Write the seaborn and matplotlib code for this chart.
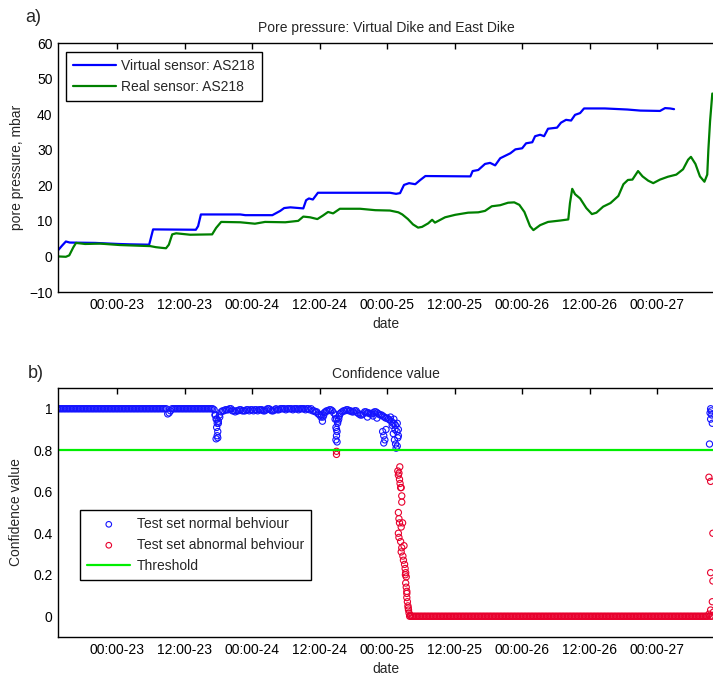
import numpy as np
import pandas as pd
import matplotlib
matplotlib.use("Agg")
import matplotlib.pyplot as plt
import seaborn as sns

# time axis: hours since 00:00 on the 23rd
VIRTUAL_T = [-10.5, -9.8, -9.1, -8.4, -3.9, 0.2, 2.3, 5.7, 5.9, 6.4, 14.0, 14.4, 14.9,
             21.9, 22.8, 27.6, 29.0, 29.7, 30.8, 33.1, 33.6, 34.1, 34.8, 35.7, 41.4,
             48.5, 49.6, 50.3, 51.0, 51.9, 53.0, 53.9, 54.8, 62.8, 63.2, 64.2, 65.4,
             66.3, 67.2, 68.1, 69.9, 70.8, 72.0, 72.7, 73.8, 74.3, 75.2, 75.9, 76.6,
             78.2, 78.9, 79.8, 80.7, 81.4, 82.3, 83.0, 86.7, 90.7, 93.0, 96.5, 97.4,
             98.3, 99.0]
VIRTUAL_P = [1.7, 3.0, 4.2, 3.9, 3.8, 3.5, 3.4, 3.3, 4.5, 7.6, 7.5, 8.5, 11.8,
             11.8, 11.6, 11.6, 12.8, 13.6, 13.8, 13.5, 15.8, 16.3, 16.0, 17.9, 17.9,
             17.9, 17.6, 17.8, 20.1, 20.6, 20.3, 21.5, 22.6, 22.5, 24.0, 24.3, 26.0,
             26.3, 25.6, 27.6, 29.0, 30.1, 30.4, 31.8, 32.1, 33.8, 34.2, 33.8, 35.9,
             36.2, 37.6, 38.4, 38.2, 39.8, 40.3, 41.6, 41.6, 41.3, 41.0, 40.9, 41.7,
             41.6, 41.4]

REAL_T = [-10.5, -9.1, -8.5, -7.8, -7.3, -5.7, -3.0, 0.5, 4.1, 5.9, 6.9, 8.0, 8.7,
          9.2, 9.8, 10.5, 13.0, 16.9, 17.6, 18.5, 21.9, 24.5, 26.3, 29.9, 32.2, 33.1,
          34.3, 35.6, 36.6, 37.5, 38.4, 39.6, 43.2, 45.9, 48.5, 50.0, 50.7, 51.7, 52.6,
          53.5, 54.2, 55.3, 56.0, 56.5, 58.3, 60.1, 62.4, 64.2, 65.4, 66.6, 68.1, 69.5,
          70.6, 71.5, 72.4, 73.4, 74.0, 75.2, 76.6, 78.8, 80.2, 80.5, 80.9, 81.4, 82.3,
          83.4, 84.4, 85.2, 86.4, 87.7, 89.1, 90.0, 90.8, 91.6, 92.6, 93.4, 94.4, 95.3,
          96.5, 97.9, 99.4, 100.6, 101.5, 102.0, 102.8, 103.6, 104.4, 104.9, 105.1,
          105.4, 105.8]
REAL_P = [0.0, -0.1, 0.3, 2.5, 3.8, 3.5, 3.6, 3.2, 3.0, 2.9, 2.6, 2.4, 2.3,
          3.3, 6.2, 6.5, 6.1, 6.2, 8.0, 9.7, 9.6, 9.2, 9.7, 9.6, 10.0, 11.2,
          11.0, 10.5, 11.5, 12.5, 12.1, 13.4, 13.4, 13.0, 12.9, 12.4, 11.8, 10.5, 9.0,
          8.1, 8.3, 9.3, 10.3, 9.5, 11.0, 11.7, 12.3, 12.4, 12.8, 14.1, 14.4, 15.1,
          15.2, 14.5, 12.5, 8.5, 7.4, 8.8, 9.7, 10.1, 10.4, 15.0, 19.0, 17.5, 16.3,
          13.6, 11.9, 12.3, 14.0, 15.0, 17.0, 20.3, 21.5, 21.6, 24.0, 22.5, 21.3, 20.6,
          21.6, 22.4, 23.0, 24.5, 27.2, 28.0, 26.0, 22.5, 21.0, 23.0, 30.0,
          38.0, 45.8]

TICK_HOURS = [0, 12, 24, 36, 48, 60, 72, 84, 96]
TICK_LABELS = ["00:00-23", "12:00-23", "00:00-24", "12:00-24", "00:00-25",
               "12:00-25", "00:00-26", "12:00-26", "00:00-27"]

# confidence record, one sample every quarter hour from -10.5 h (6 h per row)
CONF_START = -10.5
CONF_STEP = 0.25
CONF_GRID = [
    1, 1, 1, 1, 1, 1, 1, 1, 1, 1, 1, 1, 1, 1, 1, 1, 1, 1, 1, 1, 1, 1, 1, 1,
    1, 1, 1, 1, 1, 1, 1, 1, 1, 1, 1, 1, 1, 1, 1, 1, 1, 1, 1, 1, 1, 1, 1, 1,
    1, 1, 1, 1, 1, 1, 1, 1, 1, 1, 1, 1, 1, 1, 1, 1, 1, 1, 1, 1, 1, 1, 1, 1,
    1, 1, 1, 1, 1, 1, .975, .98, .99, 1, 1, 1, 1, 1, 1, 1, 1, 1, 1, 1, 1, 1, 1, 1,
    1, 1, 1, 1, 1, 1, 1, 1, 1, 1, 1, 1, 1, 1, 1, .995, .97, .95, .93, .96, .985, .99, .99, .995,
    .995, .995, 1, 1, .99, .99, .985, .99, .99, .995, .995, .99,
    .99, .99, .995, .995, .99, .995, .995, .99, .995, .995, .99, .995,
    .995, .995, .99, .99, .995, 1, 1, .995, .99, .99, .995, 1,
    .995, .995, 1, 1, 1, 1, .995, 1, 1, 1, 1, .995,
    1, 1, 1, .995, 1, 1, 1, 1, .995, 1, 1, .995, 1, .99, .99, .985, .985, .975, .97,
    .96, .94, .97, .985, .99,
    .99, .995, .995, .99, .98, .95, .90, .94, .965, .98,
    .985, .99, .99, .995, .995, .99, .99, .985, .985, .99, .99, .98, .975, .97,
    .97, .975, .985, .985, .98, .98, .975, .975, .98, .985, .985, .98,
    .975, .97, .97, .965, .96, .955, .955, .95, .945, .94, .93, .93,
    .92, .89, .87, .72, .62, .45, .34, .20, .11, .04, 0, 0, 0, 0, 0, 0, 0, 0, 0, 0, 0, 0, 0, 0,
    0, 0, 0, 0, 0, 0, 0, 0, 0, 0, 0, 0, 0, 0, 0, 0, 0, 0, 0, 0, 0, 0, 0, 0,
    0, 0, 0, 0, 0, 0, 0, 0, 0, 0, 0, 0, 0, 0, 0, 0, 0, 0, 0, 0, 0, 0, 0, 0,
    0, 0, 0, 0, 0, 0, 0, 0, 0, 0, 0, 0, 0, 0, 0, 0, 0, 0, 0, 0, 0, 0, 0, 0,
    0, 0, 0, 0, 0, 0, 0, 0, 0, 0, 0, 0, 0, 0, 0, 0, 0, 0, 0, 0, 0, 0, 0, 0,
    0, 0, 0, 0, 0, 0, 0, 0, 0, 0, 0, 0, 0, 0, 0, 0, 0, 0, 0, 0, 0, 0, 0, 0,
    0, 0, 0, 0, 0, 0, 0, 0, 0, 0, 0, 0, 0, 0, 0, 0, 0, 0, 0, 0, 0, 0, 0, 0,
    0, 0, 0, 0, 0, 0, 0, 0, 0, 0, 0, 0, 0, 0, 0, 0, 0, 0, 0, 0, 0, 0, 0, 0,
    0, 0, 0, 0, 0, 0, 0, 0, 0, 0, 0, 0, 0, 0, 0, 0, 0, 0, 0, 0, 0, 0, 0, 0,
    0, 0, 0, 0, 0, 0, 0,
]
# extra samples in the dips, the drop and the final burst
CONF_EXTRA_T = [17.4, 17.6, 17.8, 17.7, 17.9, 17.8, 17.6, 17.9, 18.2, 18.0,
                36.3, 36.6, 36.8,
                38.8, 39.0, 39.2, 38.9, 39.1, 39.0, 38.9, 39.1, 39.0, 39.0, 39.4, 39.6,
                44.5, 45.5, 46.2, 47.2, 47.4, 47.6, 47.4, 47.8,
                48.9, 49.1, 49.3, 49.5, 49.6, 49.8, 49.9, 50.0, 49.8, 49.4, 49.2, 48.6,
                49.9, 50.1, 50.0, 50.2, 50.3, 50.4, 50.6, 50.6, 50.0, 50.1, 50.2, 50.5,
                50.0, 50.1, 50.4, 50.6, 50.5, 50.8, 50.9, 51.1, 51.2, 51.3, 51.4, 51.3,
                51.4, 51.5, 51.5, 51.6, 51.7, 51.8, 51.9, 52.1,
                105.5, 105.6, 105.4, 105.7, 105.5, 105.8, 105.3,
                105.2, 105.5, 105.9, 105.5, 105.9, 105.8, 105.5, 105.2, 105.4, 105.7, 106.0]
CONF_EXTRA_V = [0.97, 0.95, 0.93, 0.91, 0.89, 0.87, 0.855, 0.86, 0.97, 0.94,
                0.97, 0.96, 0.98,
                0.97, 0.95, 0.93, 0.91, 0.89, 0.87, 0.85, 0.84, 0.795, 0.78, 0.95, 0.975,
                0.96, 0.965, 0.955, 0.89, 0.87, 0.85, 0.835, 0.90,
                0.92, 0.88, 0.85, 0.83, 0.81, 0.82, 0.86, 0.90, 0.93, 0.90, 0.95, 0.96,
                0.70, 0.69, 0.68, 0.66, 0.64, 0.62, 0.58, 0.55, 0.50, 0.47, 0.45, 0.43,
                0.40, 0.38, 0.36, 0.33, 0.31, 0.29, 0.27, 0.25, 0.23, 0.21, 0.19, 0.16,
                0.14, 0.12, 0.09, 0.07, 0.05, 0.03, 0.015, 0.005,
                1.00, 0.99, 0.98, 0.97, 0.95, 0.93, 0.83,
                0.67, 0.65, 0.40, 0.21, 0.17, 0.07, 0.03, 0.01, 0.0, 0.0, 0.02]
THRESHOLD = 0.8


def main():
    sns.set_theme(style="white")
    plt.rcParams["font.family"] = ["Liberation Sans", "DejaVu Sans"]
    plt.rcParams["font.size"] = 10

    fig = plt.figure(figsize=(7.13, 6.75), dpi=100)
    W, H = 713.0, 675.0
    ax1 = fig.add_axes([58 / W, 1 - 292 / H, 656 / W, 249 / H])
    ax2 = fig.add_axes([58 / W, 1 - 637 / H, 656 / W, 249 / H])

    # a) pore pressure
    sns.lineplot(x=VIRTUAL_T, y=VIRTUAL_P, ax=ax1, color="#0000ff", lw=1.6,
                 estimator=None, sort=False, label="Virtual sensor: AS218")
    sns.lineplot(x=REAL_T, y=REAL_P, ax=ax1, color="#008000", lw=1.6,
                 estimator=None, sort=False, label="Real sensor: AS218")
    ax1.set_ylim(-10, 60)
    ax1.set_yticks(range(-10, 61, 10))
    ax1.set_title("Pore pressure: Virtual Dike and East Dike", fontsize=10, pad=8)
    ax1.set_ylabel("pore pressure, mbar", fontsize=10)
    ax1.yaxis.set_label_coords(-0.052, 0.5)
    ax1.legend(loc="upper left", bbox_to_anchor=(0.012, 0.964), borderaxespad=0,
               fancybox=False, framealpha=1, edgecolor="black", fontsize=10,
               handlelength=3.1, handletextpad=0.4, labelspacing=0.5, borderpad=0.5)

    # b) confidence
    conf = pd.DataFrame({
        "t": np.concatenate([CONF_START + CONF_STEP * np.arange(len(CONF_GRID)), CONF_EXTRA_T]),
        "v": np.concatenate([np.asarray(CONF_GRID, dtype=float), CONF_EXTRA_V]),
    })
    normal = conf[conf["v"] >= THRESHOLD]
    abnormal = conf[conf["v"] < THRESHOLD]
    sns.scatterplot(data=normal, x="t", y="v", ax=ax2, marker="o", s=20,
                    facecolors="none", edgecolors="#1414ff", linewidth=1.0,
                    label="Test set normal behviour")
    sns.scatterplot(data=abnormal, x="t", y="v", ax=ax2, marker="o", s=20,
                    facecolors="none", edgecolors="#e8002d", linewidth=1.0,
                    label="Test set abnormal behviour")
    ax2.axhline(THRESHOLD, color="#00ee00", lw=1.6, label="Threshold")
    ax2.set_ylim(-0.1, 1.1)
    ax2.set_yticks([0, 0.2, 0.4, 0.6, 0.8, 1.0])
    ax2.set_yticklabels(["0", "0.2", "0.4", "0.6", "0.8", "1"])
    ax2.set_title("Confidence value", fontsize=10, pad=7)
    ax2.set_ylabel("Confidence value", fontsize=10)
    ax2.yaxis.set_label_coords(-0.053, 0.5)
    handles, labels = ax2.get_legend_handles_labels()
    for h in handles[:2]:
        h.set_linewidth(0.8)
    ax2.legend(handles, labels, loc="upper left", bbox_to_anchor=(0.034, 0.51),
               borderaxespad=0, fancybox=False, framealpha=1, edgecolor="black",
               fontsize=10, handlelength=3.1, handletextpad=0.45, labelspacing=0.5,
               borderpad=0.5, markerscale=0.9)

    for ax in (ax1, ax2):
        ax.set_xlim(-10.5, 106.1)
        ax.set_xticks(TICK_HOURS)
        ax.set_xticklabels(TICK_LABELS)
        ax.set_xlabel("date", fontsize=10)
        ax.xaxis.set_label_coords(0.5, -0.1)
        ax.tick_params(direction="in", top=True, right=False, length=4, width=1,
                       labelsize=10, colors="black", pad=4)
        ax.spines["right"].set_visible(False)
        for side in ("left", "bottom", "top"):
            ax.spines[side].set_color("black")
            ax.spines[side].set_linewidth(1.0)
        ax.grid(False)

    fig.text(25 / W, 1 - 18 / H, "a)", fontsize=13, va="center", ha="left")
    fig.text(28 / W, 1 - 373 / H, "b)", fontsize=13, va="center", ha="left")

    fig.savefig("out.png", dpi=100)
    plt.close(fig)


if __name__ == "__main__":
    main()
